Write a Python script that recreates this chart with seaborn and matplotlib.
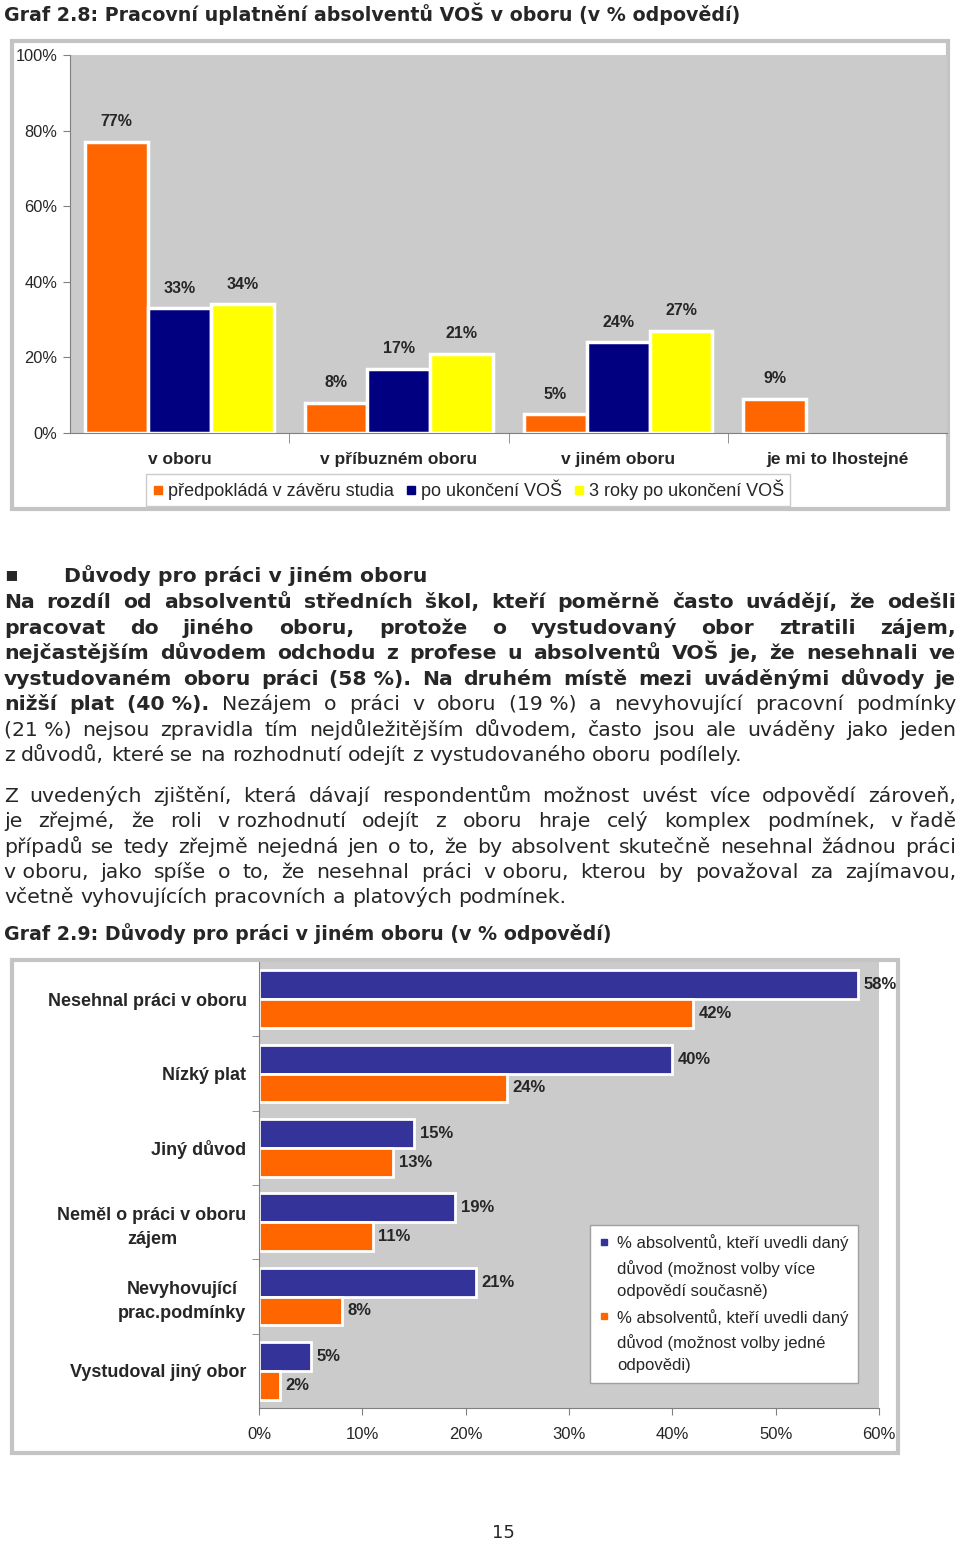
import numpy as np
import pandas as pd
import matplotlib
matplotlib.use("Agg")
import matplotlib.pyplot as plt
from matplotlib.patches import Rectangle
from matplotlib.lines import Line2D
from matplotlib.legend_handler import HandlerLine2D
import seaborn as sns

sns.set_style("white")
plt.rcParams["font.family"] = ["Liberation Sans", "DejaVu Sans"]

W, H = 960, 1541

# Graf 2.8
kategorie_28 = ["v oboru", "v příbuzném oboru", "v jiném oboru", "je mi to lhostejné"]
serie_28 = ["předpokládá v závěru studia", "po ukončení VOŠ", "3 roky po ukončení VOŠ"]
predpoklad = [77, 8, 5, 9]
po_ukonceni = [33, 17, 24, None]
po_3_letech = [34, 21, 27, None]
barvy_28 = ["#FF6600", "#000080", "#FFFF00"]

# Graf 2.9
duvody = ["Nesehnal práci v oboru", "Nízký plat", "Jiný důvod",
          "Neměl o práci v oboru\nzájem", "Nevyhovující\nprac.podmínky",
          "Vystudoval jiný obor"]
serie_29 = ["% absolventů, kteří uvedli daný\ndůvod (možnost volby více\nodpovědí současně)",
            "% absolventů, kteří uvedli daný\ndůvod (možnost volby jedné\nodpovědi)"]
vice_odpovedi = [58, 40, 15, 19, 21, 5]
jedna_odpoved = [42, 24, 13, 11, 8, 2]
barvy_29 = ["#333399", "#FF6600"]

NB = "\u00a0"
odstavec_1 = [
    [("Na rozdíl od absolventů středních škol, kteří poměrně často uvádějí, že odešli", "bold")],
    [("pracovat do jiného oboru, protože o vystudovaný obor ztratili zájem,", "bold")],
    [("nejčastějším důvodem odchodu z profese u absolventů VOŠ je, že nesehnali ve", "bold")],
    [(f"vystudovaném oboru práci (58{NB}%). Na druhém místě mezi uváděnými důvody je", "bold")],
    [(f"nižší plat (40{NB}%).", "bold"),
     (f"Nezájem o práci v oboru (19{NB}%) a nevyhovující pracovní podmínky", "normal")],
    [(f"(21{NB}%) nejsou zpravidla tím nejdůležitějším důvodem, často jsou ale uváděny jako jeden", "normal")],
    [("z důvodů, které se na rozhodnutí odejít z vystudovaného oboru podílely.", "normal")],
]
odstavec_2 = [
    [("Z uvedených zjištění, která dávají respondentům možnost uvést více odpovědí zároveň,", "normal")],
    [(f"je zřejmé, že roli v{NB}rozhodnutí odejít z oboru hraje celý komplex podmínek, v{NB}řadě", "normal")],
    [("případů se tedy zřejmě nejedná jen o to, že by absolvent skutečně nesehnal žádnou práci", "normal")],
    [(f"v{NB}oboru, jako spíše o to, že nesehnal práci v{NB}oboru, kterou by považoval za zajímavou,", "normal")],
    [("včetně vyhovujících pracovních a platových podmínek.", "normal")],
]

FS_TITLE = 13.7
FS_TEXT = 14.7
fig = plt.figure(figsize=(W / 100, H / 100), dpi=100)
renderer = fig.canvas.get_renderer()


def fx(px):
    return px / W


def fy(py):
    return 1 - py / H


def text_line(segments, y, justify=True, x0=4, x1=956):
    words = []
    for text, weight in segments:
        for s in text.split(" "):
            t = fig.text(0, 0, s, fontsize=FS_TEXT, fontweight=weight,
                         family="DejaVu Sans", va="baseline", ha="left")
            words.append((t, t.get_window_extent(renderer).width))
    probe = fig.text(0, 0, "x x", fontsize=FS_TEXT, family="DejaVu Sans")
    probe2 = fig.text(0, 0, "xx", fontsize=FS_TEXT, family="DejaVu Sans")
    space = probe.get_window_extent(renderer).width - probe2.get_window_extent(renderer).width
    probe.remove()
    probe2.remove()
    total = sum(w for _, w in words)
    gap = (x1 - x0 - total) / (len(words) - 1) if justify else space
    gap = max(gap, 1.5)
    x = x0
    for t, w in words:
        t.set_position((fx(x), fy(y)))
        x += w + gap


class FirstLineHandler(HandlerLine2D):
    # marker next to the first line of a three-line legend label
    def create_artists(self, legend, orig_handle, xdescent, ydescent, width, height, fontsize, trans):
        arts = super().create_artists(legend, orig_handle, xdescent, ydescent,
                                      width, height, fontsize, trans)
        for a in arts:
            a.set_ydata(np.asarray(a.get_ydata()) + 18)
        return arts


# outer frames of both charts
fig.add_artist(Rectangle((fx(12), fy(509)), 936 / W, 468 / H, transform=fig.transFigure,
                         facecolor="white", edgecolor="#C4C4C4", lw=3, zorder=-1))
fig.add_artist(Rectangle((fx(12), fy(1453)), 886 / W, 493 / H, transform=fig.transFigure,
                         facecolor="white", edgecolor="#C4C4C4", lw=3, zorder=-1))

# ---- Graf 2.8 ----
df28 = pd.DataFrame({
    "kategorie": kategorie_28 * 3,
    "serie": np.repeat(serie_28, len(kategorie_28)),
    "hodnota": predpoklad + po_ukonceni + po_3_letech,
}).dropna()

ax1 = fig.add_axes([fx(70), fy(433), 877 / W, 378 / H])
sns.barplot(data=df28, x="kategorie", y="hodnota", hue="serie", order=kategorie_28,
            hue_order=serie_28, palette=barvy_28, saturation=1, width=0.86, errorbar=None,
            edgecolor="white", linewidth=2.5, legend=False, ax=ax1)
ax1.set_facecolor("#CBCBCB")
ax1.set_xlim(-0.5, 3.5)
ax1.set_ylim(0, 100)
ax1.set_xlabel("")
ax1.set_ylabel("")
ax1.set_yticks(range(0, 101, 20))
ax1.set_yticklabels([f"{v}%" for v in range(0, 101, 20)], fontsize=11.8)
ax1.set_xticks(range(len(kategorie_28)))
ax1.set_xticklabels(kategorie_28, fontsize=12.5, fontweight="bold")
ax1.set_xticks([0.5, 1.5, 2.5], minor=True)
ax1.tick_params(axis="y", length=5, color="#808080", pad=4, left=True)
ax1.tick_params(axis="x", which="major", length=0, pad=14)
ax1.tick_params(axis="x", which="minor", length=7, color="#808080", bottom=True)
for side in ["top", "right"]:
    ax1.spines[side].set_visible(False)
for side in ["left", "bottom"]:
    ax1.spines[side].set_color("#808080")
for c in ax1.containers:
    ax1.bar_label(c, fmt="{:.0f}%", padding=9, fontsize=11.5, fontweight="bold")

handles_28 = [Line2D([], [], marker="s", color=b, linestyle="none", markersize=6) for b in barvy_28]
leg1 = fig.legend(handles_28, serie_28, loc="center", bbox_to_anchor=(fx(468), fy(490)),
                  ncol=3, frameon=True, fancybox=False, edgecolor="#BFBFBF",
                  prop=dict(size=13), handlelength=0.7, handletextpad=0.2,
                  columnspacing=0.6, borderpad=0.3, borderaxespad=0)
leg1.get_frame().set_linewidth(1)

# ---- Graf 2.9 ----
df29 = pd.DataFrame({
    "duvod": duvody * 2,
    "serie": np.repeat(serie_29, len(duvody)),
    "hodnota": vice_odpovedi + jedna_odpoved,
})

ax2 = fig.add_axes([fx(259), fy(1408), 620 / W, 446 / H])
sns.barplot(data=df29, y="duvod", x="hodnota", hue="serie", order=duvody, hue_order=serie_29,
            palette=barvy_29, orient="h", saturation=1, width=0.78, errorbar=None,
            edgecolor="white", linewidth=2, legend=False, ax=ax2)
ax2.set_facecolor("#CBCBCB")
ax2.set_xlim(0, 60)
ax2.set_ylim(5.5, -0.5)
ax2.set_xlabel("")
ax2.set_ylabel("")
ax2.set_xticks(range(0, 61, 10))
ax2.set_xticklabels([f"{v}%" for v in range(0, 61, 10)], fontsize=12)
ax2.set_yticks(range(len(duvody)))
ax2.set_yticklabels(duvody, fontsize=13, fontweight="bold")
for t in ax2.get_yticklabels():
    t.set_multialignment("center")
    t.set_linespacing(1.5)
ax2.set_yticks([0.5, 1.5, 2.5, 3.5, 4.5], minor=True)
ax2.tick_params(axis="x", length=5, color="#808080", pad=9, bottom=True)
ax2.tick_params(axis="y", which="major", length=0, pad=9)
ax2.tick_params(axis="y", which="minor", length=5, color="#808080", left=True)
for side in ["top", "right"]:
    ax2.spines[side].set_visible(False)
for side in ["left", "bottom"]:
    ax2.spines[side].set_color("#808080")
for c in ax2.containers:
    ax2.bar_label(c, fmt="{:.0f}%", padding=4, fontsize=12, fontweight="bold")

handles_29 = [Line2D([], [], marker="s", color=b, linestyle="none", markersize=5) for b in barvy_29]
leg2 = fig.legend(handles_29, serie_29, loc="center", bbox_to_anchor=(fx(724), fy(1304)),
                  frameon=True, fancybox=False, edgecolor="#A0A0A0", facecolor="white",
                  framealpha=1, prop=dict(size=12), handlelength=0.6, handletextpad=0.5,
                  labelspacing=0.6, borderpad=0.55, borderaxespad=0,
                  handler_map={Line2D: FirstLineHandler()})
leg2.get_frame().set_linewidth(1)
for t in leg2.get_texts():
    t.set_linespacing(1.6)

# ---- page text ----
fig.text(fx(4), fy(21), "Graf 2.8: Pracovní uplatnění absolventů VOŠ v oboru (v % odpovědí)",
         fontsize=FS_TITLE, fontweight="bold", family="DejaVu Sans", va="baseline")
fig.text(fx(4), fy(580), "▪", fontsize=FS_TEXT, family="DejaVu Sans", va="baseline")
fig.text(fx(64), fy(582), "Důvody pro práci v jiném oboru",
         fontsize=FS_TEXT, fontweight="bold", family="DejaVu Sans", va="baseline")

for i, segs in enumerate(odstavec_1):
    text_line(segs, 608 + i * 25.5, justify=i < len(odstavec_1) - 1)
for i, segs in enumerate(odstavec_2):
    text_line(segs, 802 + i * 25.3, justify=i < len(odstavec_2) - 1)

fig.text(fx(4), fy(940), "Graf 2.9: Důvody pro práci v jiném oboru (v % odpovědí)",
         fontsize=FS_TITLE, fontweight="bold", family="DejaVu Sans", va="baseline")
fig.text(fx(503), fy(1538), "15", fontsize=13, family="DejaVu Sans", ha="center", va="baseline")

fig.savefig("out.png", dpi=100)
